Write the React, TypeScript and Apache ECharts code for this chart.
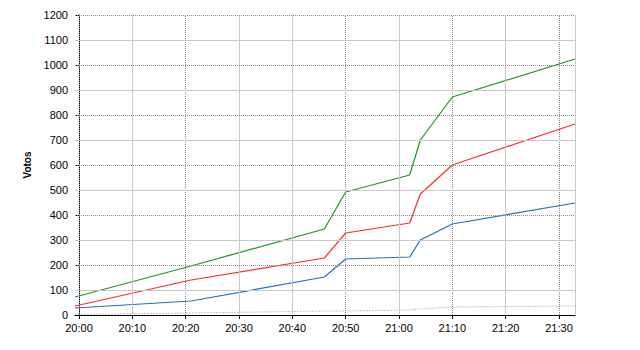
import React, { useEffect, useRef } from "react";
import * as echarts from "echarts";

const times = ["19:59:15", "20:21", "20:46", "20:50", "21:02", "21:04", "21:10", "21:33"];
const green = [72, 196, 344, 492, 560, 700, 872, 1024];
const red = [36, 140, 228, 328, 368, 484, 600, 764];
const blue = [28, 56, 152, 224, 232, 300, 364, 448];
const gray = [2, 8, 16, 16, 20, 24, 32, 36];
const tickTimes = ["20:00", "20:10", "20:20", "20:30", "20:40", "20:50", "21:00", "21:10", "21:20", "21:30"];
const dottedTimes = ["20:00", "20:20", "20:50", "21:10", "21:30"];
const yTicks = [0, 100, 200, 300, 400, 500, 600, 700, 800, 900, 1000, 1100, 1200];
const axisMin = "19:59:15";
const axisMax = "21:33";

const toMin = (t: string) => {
  const p = t.split(":").map(Number);
  return (p[0] - 20) * 60 + p[1] + (p[2] || 0) / 60;
};
const fmt = (v: number) => {
  const total = Math.round(v + 20 * 60);
  const h = Math.floor(total / 60);
  const m = total % 60;
  return `${h}:${m < 10 ? "0" + m : m}`;
};

export default function App() {
  const ref = useRef<HTMLDivElement>(null);
  useEffect(() => {
    const chart = echarts.init(ref.current!, undefined, { renderer: "svg" });
    const xs = times.map(toMin);
    const mk = (arr: number[]) => arr.map((v, i) => [xs[i], v]);
    const tickVals = tickTimes.map(toMin);
    const dottedVals = dottedTimes.map(toMin);
    const solidLine = { color: "#c8c8c8", width: 1, type: "solid" as const };
    const dotLine = { color: "#8c8c8c", width: 1, type: [1, 1] as any };
    const gridLines: any[] = [];
    tickVals.forEach((v) => {
      const dotted = dottedVals.some((d) => Math.abs(d - v) < 1e-6);
      gridLines.push({ xAxis: v, lineStyle: dotted ? dotLine : solidLine });
    });
    gridLines.push({ xAxis: toMin(axisMax), lineStyle: solidLine });
    yTicks.forEach((v) => {
      if (v === 0) return;
      gridLines.push({ yAxis: v, lineStyle: (v / 100) % 2 === 0 ? dotLine : solidLine });
    });
    const labelFont = { fontFamily: "Liberation Sans", fontSize: 11, color: "#000" };
    chart.setOption({
      animation: false,
      grid: { left: 75, right: 65, top: 15, bottom: 35 },
      xAxis: {
        type: "value",
        min: toMin(axisMin),
        max: toMin(axisMax),
        axisLine: { lineStyle: { color: "#000", width: 1 } },
        axisTick: { show: true, length: 4, customValues: tickVals, lineStyle: { color: "#000" } },
        axisLabel: { ...labelFont, margin: 7, customValues: tickVals, formatter: (v: number) => fmt(v) },
        splitLine: { show: false },
      },
      yAxis: {
        type: "value",
        min: 0,
        max: 1200,
        interval: 100,
        name: "Votos",
        nameLocation: "middle",
        nameGap: 41,
        nameTextStyle: { fontFamily: "Liberation Sans", fontSize: 10, fontWeight: "bold", color: "#000" },
        axisLine: { show: true, lineStyle: { color: "#000", width: 1 } },
        axisTick: { show: true, length: 4, lineStyle: { color: "#000" } },
        axisLabel: { ...labelFont, margin: 7, formatter: (v: number) => String(v) },
        splitLine: { show: false },
      },
      series: [
        {
          type: "line",
          data: mk(gray),
          symbol: "none",
          z: 1,
          lineStyle: { color: "#c4c4c4", width: 1, type: [2, 1] },
          markLine: {
            silent: true,
            symbol: "none",
            label: { show: false },
            animation: false,
            data: gridLines,
          },
        },
        { type: "line", data: mk(blue), symbol: "none", z: 3, lineStyle: { color: "#1f6fc5", width: 1.2 } },
        { type: "line", data: mk(red), symbol: "none", z: 3, lineStyle: { color: "#ff2b2b", width: 1.2 } },
        { type: "line", data: mk(green), symbol: "none", z: 3, lineStyle: { color: "#1e961e", width: 1.2 } },
      ],
    });
    return () => chart.dispose();
  }, []);
  return (
    <div
      ref={ref}
      style={{ position: "absolute", left: 0, top: 0, width: 640, height: 350, background: "#fff" }}
    />
  );
}
